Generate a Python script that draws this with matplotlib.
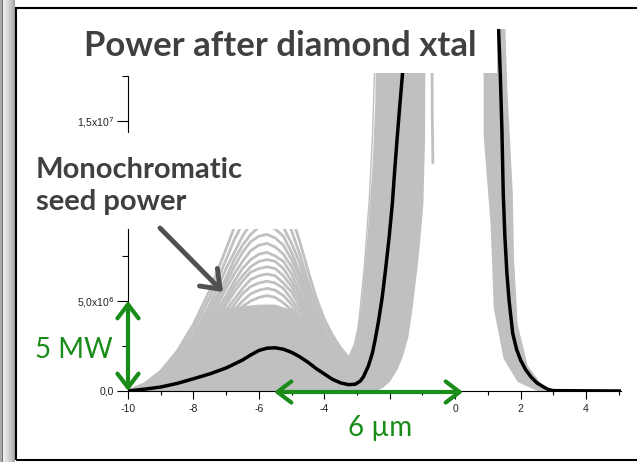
import matplotlib
matplotlib.use('Agg')
import matplotlib.pyplot as plt
from matplotlib.patches import Rectangle, FancyArrowPatch, ArrowStyle

# power in MW, position in um
black_x = [-10, -9.5, -9, -8.5, -8, -7.5, -7, -6.5, -6.25, -6, -5.75, -5.5, -5.25,
           -5, -4.75, -4.5, -4.25, -4, -3.75, -3.5, -3.25, -3.05, -2.9, -2.8,
           -2.65, -2.53, -2.44, -2.34, -2.23, -2.13, -2.02, -1.92, -1.85, -1.77,
           -1.69, -1.61, -1.45,
           1.25, 1.33, 1.38, 1.43, 1.47, 1.52, 1.58, 1.65, 1.76, 1.88, 2.0, 2.15,
           2.31, 2.5, 2.71, 2.85, 3.0, 5.07]
black_y = [0, 0.1, 0.22, 0.42, 0.68, 0.95, 1.28, 1.72, 2.0, 2.25, 2.38, 2.4, 2.32,
           2.15, 1.9, 1.6, 1.25, 0.95, 0.65, 0.45, 0.35, 0.38, 0.55, 0.8,
           1.4, 2.1, 2.9, 3.9, 5.2, 6.7, 8.5, 10.4, 12.2, 14.1,
           15.9, 17.6, 24,
           24, 20, 17.6, 14.5, 11.0, 8.6, 6.6, 5.0, 3.2, 2.3, 1.72, 1.2,
           0.8, 0.45, 0.22, 0.08, 0.02, 0]

# shot-to-shot curves of the seed hump
hump_x = [-10, -9.5, -9, -8.5, -8, -7.5, -7, -6.75, -6.5, -6.25, -6, -5.75, -5.5,
          -5.25, -5, -4.75, -4.5, -4.25, -4, -3.75, -3.5, -3.3]
hump_curves = [
    [0, 0.4, 1.1, 2.2, 3.7, 5.6, 7.9, 9.1, 10.1, 10.9, 11.4, 11.5, 11.3, 10.7, 9.7, 8.3, 6.7, 5.2, 4.0, 3.1, 2.4, 1.95],
    [0, 0.37, 1.0, 2.0, 3.4, 5.2, 7.3, 8.4, 9.3, 10.1, 10.5, 10.6, 10.4, 9.9, 8.9, 7.6, 6.1, 4.8, 3.7, 2.9, 2.2, 1.8],
    [0, 0.34, 0.93, 1.86, 3.1, 4.8, 6.8, 7.7, 8.6, 9.3, 9.7, 9.8, 9.6, 9.1, 8.2, 7.1, 5.7, 4.4, 3.4, 2.6, 2.1, 1.75],
    [0, 0.32, 0.87, 1.75, 2.9, 4.5, 6.3, 7.3, 8.1, 8.7, 9.1, 9.2, 9.0, 8.6, 7.7, 6.6, 5.3, 4.1, 3.2, 2.5, 2.0, 1.7],
    [0, 0.3, 0.83, 1.65, 2.8, 4.3, 6.0, 6.9, 7.7, 8.3, 8.6, 8.7, 8.5, 8.1, 7.3, 6.3, 5.0, 3.9, 3.0, 2.4, 1.9, 1.65],
    [0, 0.29, 0.78, 1.56, 2.6, 4.0, 5.7, 6.5, 7.2, 7.8, 8.1, 8.2, 8.0, 7.6, 6.9, 5.9, 4.8, 3.7, 2.9, 2.3, 1.85, 1.6],
    [0, 0.27, 0.73, 1.46, 2.5, 3.8, 5.3, 6.1, 6.8, 7.3, 7.6, 7.7, 7.5, 7.2, 6.5, 5.5, 4.5, 3.5, 2.7, 2.2, 1.8, 1.55],
    [0, 0.26, 0.69, 1.39, 2.3, 3.6, 5.0, 5.8, 6.4, 6.9, 7.2, 7.3, 7.2, 6.8, 6.1, 5.3, 4.2, 3.3, 2.6, 2.1, 1.7, 1.5],
    [0, 0.24, 0.66, 1.31, 2.2, 3.4, 4.8, 5.5, 6.1, 6.6, 6.8, 6.9, 6.8, 6.4, 5.8, 5.0, 4.0, 3.1, 2.5, 2.0, 1.65, 1.45],
    [0, 0.23, 0.62, 1.24, 2.1, 3.2, 4.5, 5.1, 5.7, 6.2, 6.4, 6.5, 6.4, 6.0, 5.5, 4.7, 3.8, 3.0, 2.4, 1.95, 1.6, 1.4],
    [0, 0.21, 0.58, 1.16, 1.95, 3.0, 4.2, 4.8, 5.4, 5.8, 6.0, 6.1, 6.0, 5.7, 5.1, 4.4, 3.6, 2.8, 2.3, 1.9, 1.55, 1.35],
    [0, 0.2, 0.54, 1.08, 1.8, 2.8, 3.9, 4.5, 5.0, 5.4, 5.6, 5.7, 5.6, 5.3, 4.8, 4.1, 3.4, 2.7, 2.2, 1.8, 1.5, 1.3],
    [0, 0.19, 0.5, 1.0, 1.7, 2.6, 3.7, 4.2, 4.7, 5.0, 5.2, 5.3, 5.2, 4.9, 4.5, 3.8, 3.2, 2.6, 2.1, 1.75, 1.45, 1.25],
]

# outline of the dense grey area (hump + rising edge of main peak)
dense_x = [-10, -9.5, -9, -8.5, -8, -7.5, -7, -6.5, -6, -5.5, -5, -4.5, -4, -3.6,
           -3.3, -3.1, -2.9, -2.8, -2.68, -2.53, -2.44, -2.38, -0.9, -0.92, -0.97,
           -1.06, -1.16, -1.3, -1.43, -1.6, -1.76, -2.0, -2.19, -2.4]
dense_y = [0, 0.35, 1.0, 1.95, 3.2, 4.2, 4.6, 4.7, 4.8, 4.8, 4.5, 3.9, 3.2, 2.4,
           1.8, 2.6, 4.3, 6.2, 8.6, 12.3, 16.0, 24, 24, 14, 10.4,
           8.5, 6.7, 4.6, 3.0, 1.9, 1.2, 0.5, 0.2, 0]

# outline of the grey area of the main peak's falling edge
peak_x = [2.52, 1.91, 1.48, 1.18, 1.085, 0.87, 0.87, 1.54, 1.54, 1.6, 1.76, 1.8,
          1.91, 2.22, 2.71, 2.92]
peak_y = [0, 0.5, 1.8, 4.6, 9.2, 14.2, 24, 24, 19.8, 16.6, 11.1, 7.4,
          3.7, 1.4, 0.2, 0]

# single stray curves next to the rising edge
stray_a_x = [-2.97, -2.78, -2.62, -2.52, -2.46]
stray_a_y = [3.4, 6.8, 10.8, 14.4, 18]
stray_b_x = [-0.68, -0.7, -0.72]
stray_b_y = [12.7, 15.5, 24]

# labels hidden under the pasted text boxes are left empty
x_ticks = [-10, -8, -6, -4, -2, 0, 2, 4]
x_labels = ['-10', '-8', '-6', '-4', '', '0', '2', '4']
y_ticks = [0, 5, 10, 15]
y_labels = ['0,0', '5,0x10$^6$', '', '1,5x10$^7$']

W, H = 637, 462
GREY = '#c0c0c0'
GREEN = '#1a8c1a'
TXT = '#404040'


def fx(p):
    return p / W


def fy(p):
    return 1 - p / H


fig = plt.figure(figsize=(W / 100, H / 100), dpi=100)

# left bevel and frame of the slide
for i, c in enumerate(['#a8a8a8', '#a8a8a8', '#707070', '#ececec', '#e8e8e8',
                       '#e4e4e4', '#dedede', '#d8d8d8', '#d2d2d2', '#cccccc',
                       '#c6c6c6', '#c0c0c0', '#b8b8b8', '#b0b0b0', '#a0a0a0']):
    fig.add_artist(Rectangle((fx(i), 0), 1 / W, 1, transform=fig.transFigure,
                             facecolor=c, edgecolor='none', zorder=1))
fig.add_artist(Rectangle((fx(15.5), fy(459.5)), (W - 14) / W, 452 / H,
                         transform=fig.transFigure, facecolor='none',
                         edgecolor='black', lw=1.5, zorder=9))

ax = fig.add_axes([fx(128), fy(391), (621 - 128) / W, (391 - 29) / H])
ax.set_facecolor('none')
ax.set_xlim(-10, 5.07)
ax.set_ylim(0, (391 - 29) / 18)

ax.fill(dense_x, dense_y, color=GREY, lw=0)
ax.fill(peak_x, peak_y, color=GREY, lw=0)
for c in hump_curves:
    ax.plot(hump_x, c, color=GREY, lw=2.0, solid_joinstyle='round')
ax.plot(stray_a_x, stray_a_y, color=GREY, lw=1.0)
ax.plot(stray_b_x, stray_b_y, color=GREY, lw=2.0)
ax.plot(black_x, black_y, color='black', lw=2.5, solid_joinstyle='round')

for s in ['top', 'right']:
    ax.spines[s].set_visible(False)
ax.spines['left'].set_bounds(0, 17.5)
ax.spines['left'].set_linewidth(0.8)
ax.spines['bottom'].set_linewidth(0.8)
ax.set_xticks(x_ticks)
ax.set_xticklabels(x_labels)
ax.set_xticks(range(-9, 6, 2), minor=True)
ax.set_yticks(y_ticks)
ax.set_yticklabels(y_labels)
ax.set_yticks([2.5, 7.5, 12.5, 17.5], minor=True)
ax.tick_params(axis='both', which='major', direction='out', length=6, width=0.8,
               labelsize=7.5, labelcolor='#222222', pad=3)
ax.tick_params(axis='both', which='minor', direction='out', length=3, width=0.8)
ax.tick_params(axis='y', which='major', length=8, pad=2)
ax.tick_params(axis='y', which='minor', length=4)
for lab in ax.get_xticklabels() + ax.get_yticklabels():
    lab.set_family(['Liberation Sans', 'DejaVu Sans'])

# white text boxes pasted over the plot
for x0, y0, x1, y1 in [(16.5, 8.5, 497, 73), (16.5, 133, 300, 229), (340, 400, 425, 446)]:
    fig.add_artist(Rectangle((fx(x0), fy(y1)), (x1 - x0) / W, (y1 - y0) / H,
                             transform=fig.transFigure, facecolor='white',
                             edgecolor='none', zorder=5))

fig.text(fx(280), fy(46), 'Power after diamond xtal', ha='center', va='center',
         fontsize=25, fontweight='bold', color=TXT, family=['Lato', 'DejaVu Sans'], zorder=6)
fig.text(fx(36), fy(186), 'Monochromatic\nseed power', ha='left', va='center',
         fontsize=21, fontweight='bold', color=TXT, family=['Lato', 'DejaVu Sans'],
         linespacing=1.3, zorder=6)
fig.text(fx(74), fy(350), '5 MW', ha='center', va='center', fontsize=20,
         color=GREEN, family=['Lato', 'DejaVu Sans'], zorder=6)
fig.text(fx(380), fy(428), '6 \u00b5m', ha='center', va='center', fontsize=20,
         color=GREEN, family=['Lato', 'DejaVu Sans'], zorder=6)

# arrows
green_style = ArrowStyle('<->', head_length=0.5, head_width=0.38)
for a, b in [((128, 391), (128, 301)), ((274, 392), (463, 392))]:
    fig.add_artist(FancyArrowPatch((fx(a[0]), fy(a[1])), (fx(b[0]), fy(b[1])),
                                   transform=fig.transFigure, arrowstyle=green_style,
                                   mutation_scale=20, lw=3, color=GREEN,
                                   shrinkA=0, shrinkB=0, zorder=7))
fig.add_artist(FancyArrowPatch((fx(160), fy(228)), (fx(223), fy(292)),
                               transform=fig.transFigure,
                               arrowstyle=ArrowStyle('->', head_length=0.6, head_width=0.45),
                               mutation_scale=20, lw=3.5, color='#505050',
                               shrinkA=0, shrinkB=0, zorder=7))

fig.savefig('out.png', dpi=100)
